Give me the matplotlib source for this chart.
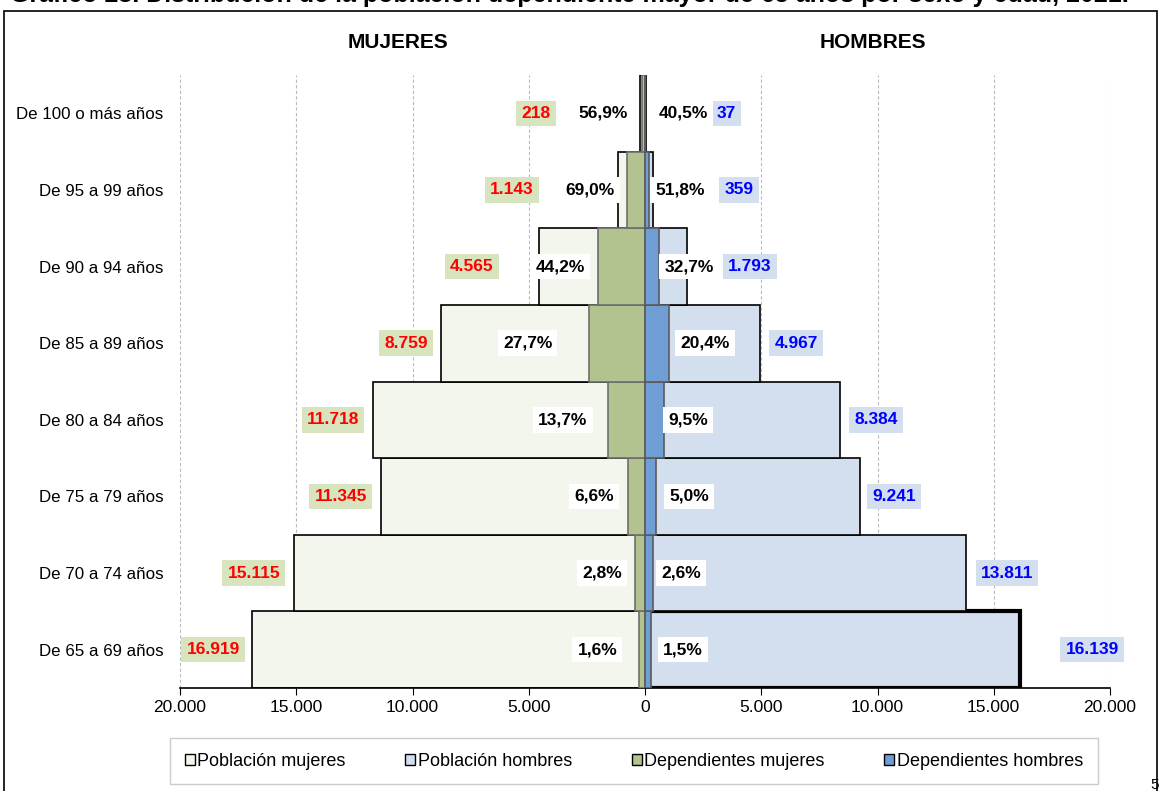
import matplotlib

matplotlib.use("Agg")
import matplotlib.pyplot as plt
from matplotlib.patches import Patch, Rectangle
from matplotlib.ticker import FuncFormatter

plt.rcParams["font.family"] = ["Liberation Sans", "DejaVu Sans"]

# data (bottom row first)
age_groups = ["De 65 a 69 años", "De 70 a 74 años", "De 75 a 79 años",
              "De 80 a 84 años", "De 85 a 89 años", "De 90 a 94 años",
              "De 95 a 99 años", "De 100 o más años"]
pop_women = [16919, 15115, 11345, 11718, 8759, 4565, 1143, 218]
pop_men = [16139, 13811, 9241, 8384, 4967, 1793, 359, 37]
dep_women = [271, 423, 749, 1605, 2426, 2018, 789, 124]
dep_men = [242, 359, 462, 796, 1013, 586, 186, 15]
pct_women = ["1,6%", "2,8%", "6,6%", "13,7%", "27,7%", "44,2%", "69,0%", "56,9%"]
pct_men = ["1,5%", "2,6%", "5,0%", "9,5%", "20,4%", "32,7%", "51,8%", "40,5%"]

# label placement (data units, x centre)
lbl_women_x = [-18580, -16820, -13080, -13420, -10280, -7440, -5720, -4690]
lbl_men_x = [19230, 15570, 10710, 9935, 6495, 4520, 4040, 3480]
pct_women_x = [-2050, -1850, -2200, -3530, -5050, -3640, -2360, -1790]
pct_men_x = [1640, 1550, 1900, 1840, 2570, 1900, 1500, 1640]

C_POP_W = "#F3F6EC"
C_POP_M = "#D3DFEE"
C_DEP_W = "#B3C38F"
C_DEP_M = "#6F9ED4"

fig = plt.figure(figsize=(11.61, 7.91), dpi=100)
ax = fig.add_axes([180 / 1161, 1 - 688 / 791, 930 / 1161, 613 / 791])

y = list(range(len(age_groups)))
ax.barh(y, [-v for v in pop_women], height=1.0, color=C_POP_W,
        edgecolor="black", linewidth=1.2, zorder=2)
men_lw = [3.0] + [1.2] * (len(y) - 1)
ax.barh(y, pop_men, height=1.0, color=C_POP_M, edgecolor="black",
        linewidth=men_lw, zorder=2)
ax.barh(y, [-v for v in dep_women], height=1.0, color=C_DEP_W,
        edgecolor="#6E6E6E", linewidth=1.2, zorder=3)
ax.barh(y, dep_men, height=1.0, color=C_DEP_M, edgecolor="#5A5A5A",
        linewidth=1.2, zorder=3)

LBL_FS = 12.5
for i in y:
    ax.text(lbl_women_x[i], i, f"{pop_women[i]:,}".replace(",", "."),
            ha="center", va="center", color="red", fontsize=LBL_FS,
            fontweight="bold", zorder=5,
            bbox=dict(boxstyle="square,pad=0.3", fc="#D7E4BD", ec="none"))
    ax.text(lbl_men_x[i], i, f"{pop_men[i]:,}".replace(",", "."),
            ha="center", va="center", color="blue", fontsize=LBL_FS,
            fontweight="bold", zorder=5,
            bbox=dict(boxstyle="square,pad=0.3", fc="#D3DFEE", ec="none"))
    ax.text(pct_women_x[i], i, pct_women[i], ha="center", va="center",
            color="black", fontsize=LBL_FS, fontweight="bold", zorder=5,
            bbox=dict(boxstyle="square,pad=0.3", fc="white", ec="none"))
    ax.text(pct_men_x[i], i, pct_men[i], ha="center", va="center",
            color="black", fontsize=LBL_FS, fontweight="bold", zorder=5,
            bbox=dict(boxstyle="square,pad=0.3", fc="white", ec="none"))

ax.set_xlim(-20000, 20000)
ax.set_ylim(-0.5, len(y) - 0.5)
ax.set_xticks(range(-20000, 20001, 5000))
ax.xaxis.set_major_formatter(
    FuncFormatter(lambda v, _: f"{abs(int(v)):,}".replace(",", ".")))
ax.set_yticks(y)
ax.set_yticklabels(age_groups, fontsize=12.2)
ax.tick_params(axis="y", length=0, pad=12)
ax.tick_params(axis="x", labelsize=12.5, length=5, direction="out")
ax.grid(axis="x", color="#BBBBBB", linestyle=(0, (3, 2)), linewidth=0.8,
        zorder=0)
ax.set_axisbelow(True)
for side in ("top", "right", "left"):
    ax.spines[side].set_visible(False)
ax.spines["bottom"].set_linewidth(1.2)

fig.text(398 / 1161, 1 - 42 / 791, "MUJERES", ha="center", va="center",
         fontsize=15, fontweight="bold")
fig.text(873 / 1161, 1 - 42 / 791, "HOMBRES", ha="center", va="center",
         fontsize=15, fontweight="bold")

# title, clipped at the very top as in the source screenshot
fig.text(10 / 1161, 1 - 2 / 791,
         "Gráfico 23. Distribución de la población dependiente mayor de 65 "
         "años por sexo y edad, 2021.",
         ha="left", va="baseline", fontsize=18, fontweight="bold")

# outer frame
fig.patches.append(Rectangle((4 / 1161, -0.02), 1153 / 1161, 1.02 - 11 / 791,
                             transform=fig.transFigure, fill=False,
                             edgecolor="black", linewidth=1.2))
fig.text(1150 / 1161, 1 - 792 / 791, "5", ha="left", va="bottom", fontsize=11)

handles = [Patch(fc=C_POP_W, ec="black", lw=1),
           Patch(fc=C_POP_M, ec="black", lw=1),
           Patch(fc=C_DEP_W, ec="black", lw=1),
           Patch(fc=C_DEP_M, ec="black", lw=1)]
labels = ["Población mujeres", "Población hombres", "Dependientes mujeres",
          "Dependientes hombres"]
leg = fig.legend(handles, labels, loc="center",
                 bbox_to_anchor=(634 / 1161, 1 - 761 / 791), ncol=4,
                 fontsize=13, frameon=True, fancybox=False,
                 handlelength=0.55, handleheight=0.55, handletextpad=0.15,
                 columnspacing=3.3, borderpad=0.8, borderaxespad=0)
leg.get_frame().set_edgecolor("#BFBFBF")
leg.get_frame().set_linewidth(1.0)

fig.savefig("out.png", dpi=100)
